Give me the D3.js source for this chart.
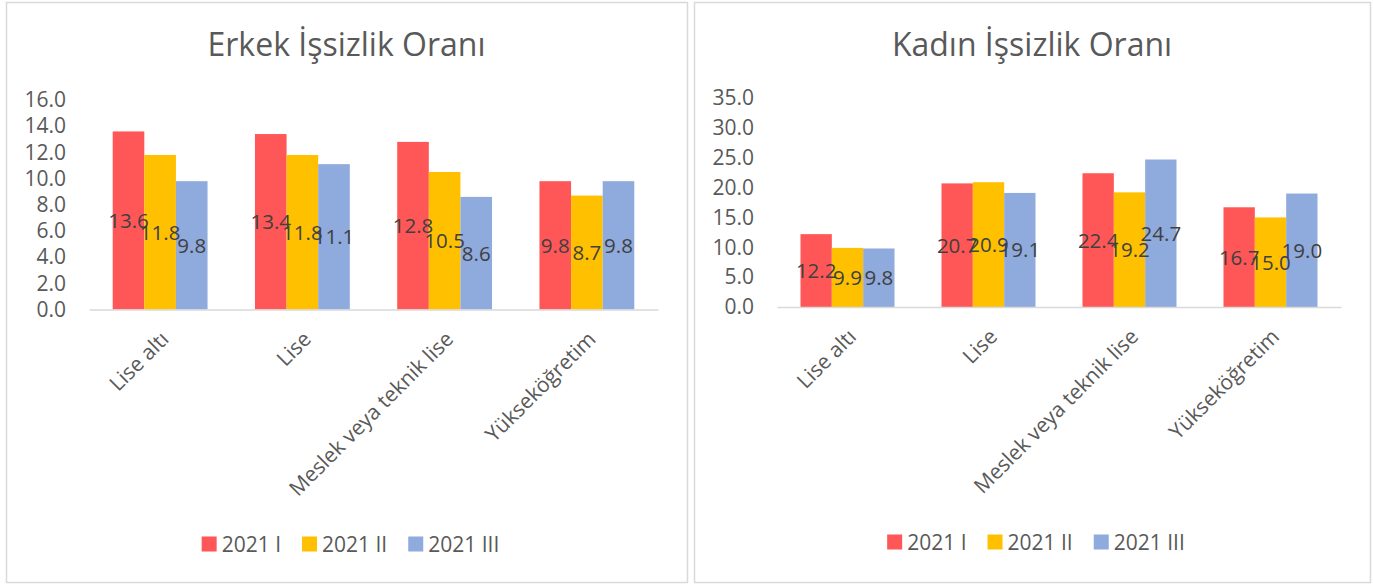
<!DOCTYPE html>
<html>
<head>
<meta charset="utf-8">
<script src="https://cdn.jsdelivr.net/npm/d3@7"></script>
<style>
  body { margin: 0; background: #fff; }
  text { font-family: "Open Sans", Lato, sans-serif; }
</style>
</head>
<body>
<div id="chart"></div>
<script>
var w = 1373;
var h = 585;

var categories = ["Lise altı", "Lise", "Meslek veya teknik lise", "Yükseköğretim"];
var seriesNames = ["2021 I", "2021 II", "2021 III"];
var colours = ["#FF5757", "#FFC000", "#8FAADC"];

// values per category, in series order
var erkekValues = [[13.6, 11.8, 9.8], [13.4, 11.8, 11.1], [12.8, 10.5, 8.6], [9.8, 8.7, 9.8]];
var kadinValues = [[12.2, 9.9, 9.8], [20.7, 20.9, 19.1], [22.4, 19.2, 24.7], [16.7, 15.0, 19.0]];

var erkekTicks = d3.range(0, 16.1, 2);
var kadinTicks = d3.range(0, 35.1, 5);

var svg = d3.select("#chart").append("svg")
    .attr("width", w)
    .attr("height", h);

function drawChart(opts) {
    var g = svg.append("g");

    // panel border
    g.append("rect")
        .attr("x", opts.left + 0.5)
        .attr("y", 2.5)
        .attr("width", opts.width)
        .attr("height", 580)
        .attr("fill", "#fff")
        .attr("stroke", "#d9d9d9")
        .attr("stroke-width", 1.5);

    g.append("text")
        .attr("x", opts.left + opts.width / 2)
        .attr("y", 56)
        .attr("text-anchor", "middle")
        .attr("font-size", "32px")
        .attr("fill", "#595959")
        .text(opts.title);

    var x0 = d3.scaleBand()
        .domain(categories)
        .range([opts.left + 83, opts.left + opts.width - 29])
        .paddingInner(1 / 3)
        .paddingOuter(1 / 6);

    var x1 = d3.scaleBand()
        .domain(seriesNames)
        .range([0, x0.bandwidth()]);

    var y = d3.scaleLinear()
        .domain([0, d3.max(opts.ticks)])
        .range([opts.bottom, opts.top]);

    // y axis labels only
    var yAxis = g.append("g")
        .attr("transform", "translate(" + (opts.left + 60) + ",0)")
        .call(d3.axisLeft(y).tickValues(opts.ticks).tickFormat(d3.format(".1f")).tickSize(0).tickPadding(0));
    yAxis.select(".domain").remove();
    yAxis.selectAll("text")
        .attr("font-size", "21px")
        .attr("font-family", "'Open Sans', sans-serif")
        .attr("fill", "#595959");

    var groups = g.selectAll(".grp")
        .data(opts.values)
        .enter()
        .append("g")
        .attr("class", "grp")
        .attr("transform", function(d, i) { return "translate(" + x0(categories[i]) + ",0)"; });

    groups.selectAll("rect")
        .data(function(d) { return d; })
        .enter()
        .append("rect")
        .attr("x", function(d, i) { return x1(seriesNames[i]); })
        .attr("y", function(d) { return y(d); })
        .attr("width", x1.bandwidth())
        .attr("height", function(d) { return y(0) - y(d); })
        .attr("fill", function(d, i) { return colours[i]; });

    // x axis line
    var xAxis = g.append("g")
        .attr("transform", "translate(0," + opts.bottom + ")")
        .call(d3.axisBottom(x0).tickSize(0).tickSizeOuter(0).tickFormat(""));
    xAxis.select(".domain")
        .attr("stroke", "#d9d9d9")
        .attr("stroke-width", 1.5);

    // value labels in the middle of each bar
    groups.selectAll(".lbl")
        .data(function(d) { return d; })
        .enter()
        .append("text")
        .attr("class", "lbl")
        .attr("x", function(d, i) { return x1(seriesNames[i]) + x1.bandwidth() / 2; })
        .attr("y", function(d) { return (y(0) + y(d)) / 2; })
        .attr("dy", "0.36em")
        .attr("text-anchor", "middle")
        .attr("font-size", "20.5px")
        .attr("fill", "#404040")
        .text(function(d) { return d.toFixed(1); });

    // rotated category labels
    g.selectAll(".cat")
        .data(categories)
        .enter()
        .append("text")
        .attr("class", "cat")
        .attr("transform", function(d) {
            return "translate(" + (x0(d) + x0.bandwidth() / 2 + 10) + "," + (opts.bottom + 31) + ") rotate(-45)";
        })
        .attr("text-anchor", "end")
        .attr("font-size", "21px")
        .attr("fill", "#595959")
        .text(function(d) { return d; });

    // legend
    var legend = g.append("g");
    var items = legend.selectAll("g")
        .data(seriesNames)
        .enter()
        .append("g");
    items.append("rect")
        .attr("width", 15)
        .attr("height", 15)
        .attr("y", -7.5)
        .attr("fill", function(d, i) { return colours[i]; });
    items.append("text")
        .attr("x", 20)
        .attr("dy", "0.36em")
        .attr("font-size", "21px")
        .attr("fill", "#595959")
        .text(function(d) { return d; });
    var pos = 0;
    items.each(function() {
        d3.select(this).attr("transform", "translate(" + pos + ",0)");
        pos += 20 + this.querySelector("text").getComputedTextLength() + 21;
    });
    var total = pos - 21;
    legend.attr("transform", "translate(" + (opts.left + opts.width / 2 + 4 - total / 2) + "," + opts.legendY + ")");
}

drawChart({
    title: "Erkek İşsizlik Oranı",
    left: 6, width: 681,
    top: 100, bottom: 309.5,
    ticks: erkekTicks,
    values: erkekValues,
    legendY: 544
});

drawChart({
    title: "Kadın İşsizlik Oranı",
    left: 694, width: 676,
    top: 98, bottom: 307,
    ticks: kadinTicks,
    values: kadinValues,
    legendY: 542
});
</script>
</body>
</html>
